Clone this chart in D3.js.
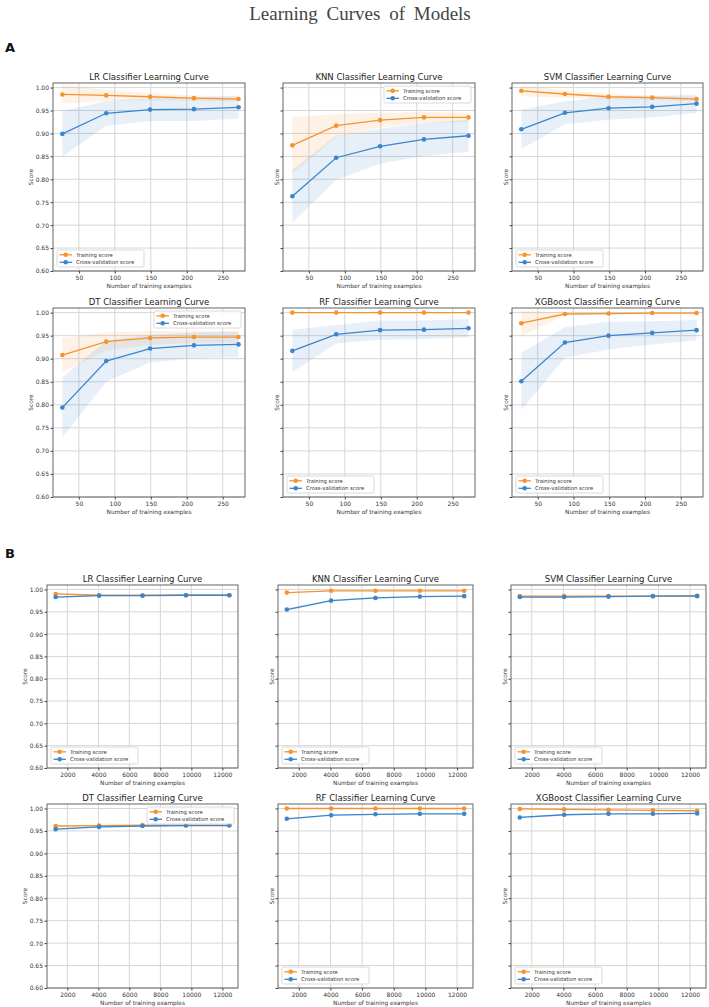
<!DOCTYPE html>
<html><head><meta charset="utf-8">
<script src="https://cdn.jsdelivr.net/npm/d3@7"></script>
<style>body{margin:0;background:#fff;} svg{display:block;} text{font-family:"DejaVu Sans",sans-serif;}</style>
</head><body><svg id="c" width="709" height="1007"></svg>
<script>
const models = ["LR","KNN","SVM","DT","RF","XGBoost"];
const sizesA = [27, 88, 149, 210, 272];
const sizesB = [1245, 4046, 6847, 9649, 12450];
const xTicksA = [50, 100, 150, 200, 250];
const xTicksB = [2000, 4000, 6000, 8000, 10000, 12000];
const yTicks = [0.60, 0.65, 0.70, 0.75, 0.80, 0.85, 0.90, 0.95, 1.00];
const seriesNames = ["Training score", "Cross-validation score"];

// Panel A
const trainMeanA = [
  [0.985, 0.983, 0.980, 0.977, 0.975],
  [0.874, 0.917, 0.929, 0.935, 0.935],
  [0.993, 0.986, 0.980, 0.978, 0.975],
  [0.908, 0.937, 0.945, 0.947, 0.947],
  [1.000, 1.000, 1.000, 1.000, 1.000],
  [0.977, 0.997, 0.998, 0.999, 0.999]
];
const trainStdA = [
  [0.020, 0.012, 0.008, 0.006, 0.005],
  [0.062, 0.025, 0.016, 0.012, 0.010],
  [0.012, 0.008, 0.006, 0.005, 0.005],
  [0.037, 0.020, 0.015, 0.013, 0.012],
  [0.000, 0.000, 0.000, 0.000, 0.000],
  [0.028, 0.003, 0.002, 0.001, 0.001]
];
const cvMeanA = [
  [0.899, 0.944, 0.952, 0.953, 0.957],
  [0.763, 0.847, 0.872, 0.887, 0.895],
  [0.909, 0.945, 0.955, 0.958, 0.965],
  [0.794, 0.895, 0.922, 0.929, 0.931],
  [0.917, 0.953, 0.962, 0.963, 0.966],
  [0.851, 0.935, 0.950, 0.956, 0.962]
];
const cvStdA = [
  [0.050, 0.027, 0.025, 0.026, 0.025],
  [0.058, 0.048, 0.038, 0.036, 0.035],
  [0.043, 0.025, 0.025, 0.023, 0.020],
  [0.065, 0.045, 0.030, 0.028, 0.028],
  [0.046, 0.020, 0.021, 0.020, 0.020],
  [0.062, 0.033, 0.030, 0.025, 0.022]
];
// Panel B
const trainMeanB = [
  [0.990, 0.987, 0.987, 0.987, 0.987],
  [0.993, 0.997, 0.997, 0.997, 0.997],
  [0.985, 0.985, 0.985, 0.985, 0.986],
  [0.961, 0.962, 0.963, 0.963, 0.963],
  [1.000, 1.000, 1.000, 1.000, 1.000],
  [0.999, 0.998, 0.997, 0.996, 0.995]
];
const trainStdB = [
  [0.002, 0.001, 0.001, 0.001, 0.001],
  [0.001, 0.001, 0.001, 0.001, 0.001],
  [0.001, 0.001, 0.001, 0.001, 0.001],
  [0.002, 0.001, 0.001, 0.001, 0.001],
  [0.000, 0.000, 0.000, 0.000, 0.000],
  [0.001, 0.001, 0.001, 0.002, 0.002]
];
const cvMeanB = [
  [0.983, 0.986, 0.986, 0.987, 0.987],
  [0.955, 0.975, 0.981, 0.984, 0.985],
  [0.983, 0.983, 0.984, 0.985, 0.985],
  [0.954, 0.959, 0.961, 0.962, 0.962],
  [0.977, 0.985, 0.987, 0.988, 0.988],
  [0.980, 0.986, 0.988, 0.988, 0.989]
];
const cvStdB = [
  [0.002, 0.001, 0.001, 0.001, 0.001],
  [0.003, 0.002, 0.002, 0.001, 0.001],
  [0.001, 0.001, 0.001, 0.001, 0.001],
  [0.002, 0.002, 0.001, 0.001, 0.001],
  [0.002, 0.001, 0.001, 0.001, 0.001],
  [0.002, 0.001, 0.001, 0.001, 0.001]
];
const legendLocA = ["lower left", "upper right", "lower left", "upper right", "lower left", "lower left"];
const legendLocB = ["lower left", "lower left", "lower left", "upper right", "lower left", "lower left"];

const ORANGE = "#f7922e", BLUE = "#3a85cc";
const svg = d3.select("#c");

// layout
const colsA = [[53, 245], [283, 475], [512, 703]];
const rowsA = [[83, 271], [308, 497]];
const colsB = [[47, 238], [278, 473], [511, 706]];
const rowsB = [[585, 768], [804, 988]];

svg.append("text").attr("x", 360).attr("y", 20).attr("text-anchor", "middle")
  .style("font-family", "'Liberation Serif', 'DejaVu Serif', serif").style("font-size", "19px")
  .style("word-spacing", "4px").attr("fill", "#444").text("Learning Curves of Models");
svg.append("text").attr("x", 5).attr("y", 52).style("font-size", "13px").style("font-weight", "bold").attr("fill", "#111").text("A");
svg.append("text").attr("x", 5).attr("y", 558).style("font-size", "13px").style("font-weight", "bold").attr("fill", "#111").text("B");

let clipId = 0;
function panel(rect, sizes, xDomain, xTicks, tm, ts, cm, cs, title, showYLabels, legendLoc) {
  const [x0, x1, y0, y1] = rect;
  const x = d3.scaleLinear().domain(xDomain).range([x0, x1]);
  const y = d3.scaleLinear().domain([0.6, 1.01]).range([y1, y0]);
  const g = svg.append("g");
  const id = "clip" + (clipId++);
  g.append("clipPath").attr("id", id).append("rect").attr("x", x0).attr("y", y0).attr("width", x1 - x0).attr("height", y1 - y0);
  // grid
  g.append("g").selectAll("line").data(xTicks).join("line")
    .attr("x1", d => x(d)).attr("x2", d => x(d)).attr("y1", y0).attr("y2", y1)
    .attr("stroke", "#d6d6d6").attr("stroke-width", 1);
  g.append("g").selectAll("line").data(yTicks).join("line")
    .attr("y1", d => y(d)).attr("y2", d => y(d)).attr("x1", x0).attr("x2", x1)
    .attr("stroke", "#d6d6d6").attr("stroke-width", 1);
  const plot = g.append("g").attr("clip-path", `url(#${id})`);
  const area = (m, s) => d3.area().x((d, i) => x(sizes[i])).y0((d, i) => y(m[i] - s[i])).y1((d, i) => y(m[i] + s[i]))(m);
  plot.append("path").attr("d", area(tm, ts)).attr("fill", ORANGE).attr("fill-opacity", 0.12);
  plot.append("path").attr("d", area(cm, cs)).attr("fill", BLUE).attr("fill-opacity", 0.12);
  const line = d3.line().x((d, i) => x(sizes[i])).y(d => y(d));
  [[tm, ORANGE], [cm, BLUE]].forEach(([m, c]) => {
    plot.append("path").attr("d", line(m)).attr("fill", "none").attr("stroke", c).attr("stroke-width", 1.3);
    plot.append("g").selectAll("circle").data(m).join("circle")
      .attr("cx", (d, i) => x(sizes[i])).attr("cy", d => y(d)).attr("r", 2.3).attr("fill", c);
  });
  // spines
  g.append("rect").attr("x", x0).attr("y", y0).attr("width", x1 - x0).attr("height", y1 - y0)
    .attr("fill", "none").attr("stroke", "#555").attr("stroke-width", 0.9);
  // axes
  const ya = g.append("g").attr("transform", `translate(${x0},0)`)
    .call(d3.axisLeft(y).tickValues(yTicks).tickSize(2.5).tickFormat(showYLabels ? d3.format(".2f") : ""));
  const xa = g.append("g").attr("transform", `translate(0,${y1})`)
    .call(d3.axisBottom(x).tickValues(xTicks).tickSize(2.5).tickFormat(d3.format("d")));
  [ya, xa].forEach(a => {
    a.select(".domain").remove();
    a.selectAll("line").attr("stroke", "#444");
    a.selectAll("text").style("font-size", "6px").attr("fill", "#333").style("font-family", "'DejaVu Sans',sans-serif");
  });
  ya.selectAll("text").attr("x", -4);
  xa.selectAll("text").attr("y", 4.5);
  // labels
  g.append("text").attr("x", (x0 + x1) / 2).attr("y", y0 - 3).attr("text-anchor", "middle")
    .style("font-size", "8.5px").attr("fill", "#222").text(title);
  g.append("text").attr("x", (x0 + x1) / 2).attr("y", y1 + 17).attr("text-anchor", "middle")
    .style("font-size", "5.8px").attr("fill", "#333").text("Number of training examples");
  const lx = showYLabels ? x0 - 20 : x0 - 4;
  g.append("text").attr("transform", `translate(${lx},${(y0 + y1) / 2}) rotate(-90)`).attr("text-anchor", "middle")
    .style("font-size", "5.8px").attr("fill", "#333").text("Score");
  // legend
  const lw = 87, lh = 17;
  const lxp = legendLoc === "upper right" ? x1 - 4 - lw : x0 + 4;
  const lyp = legendLoc === "upper right" ? y0 + 3 : y1 - 4 - lh;
  const lg = g.append("g").attr("transform", `translate(${lxp},${lyp})`);
  lg.append("rect").attr("width", lw).attr("height", lh).attr("rx", 1.5).attr("fill", "#fff").attr("fill-opacity", 0.85)
    .attr("stroke", "#d0d0d0").attr("stroke-width", 0.8);
  seriesNames.forEach((n, i) => {
    const c = i === 0 ? ORANGE : BLUE;
    const cy = 4.8 + i * 7.5;
    lg.append("line").attr("x1", 2.5).attr("x2", 15).attr("y1", cy).attr("y2", cy).attr("stroke", c).attr("stroke-width", 1.3);
    lg.append("circle").attr("cx", 8.7).attr("cy", cy).attr("r", 2.3).attr("fill", c);
    lg.append("text").attr("x", 19).attr("y", cy + 2).style("font-size", "5.3px").attr("fill", "#333").text(n);
  });
}

const xDomA = [14, 281];
const xDomB = [688, 13007];
models.forEach((m, i) => {
  const r = Math.floor(i / 3), c = i % 3;
  panel([colsA[c][0], colsA[c][1], rowsA[r][0], rowsA[r][1]], sizesA, xDomA, xTicksA,
    trainMeanA[i], trainStdA[i], cvMeanA[i], cvStdA[i], `${m} Classifier Learning Curve`, c === 0, legendLocA[i]);
  panel([colsB[c][0], colsB[c][1], rowsB[r][0], rowsB[r][1]], sizesB, xDomB, xTicksB,
    trainMeanB[i], trainStdB[i], cvMeanB[i], cvStdB[i], `${m} Classifier Learning Curve`, c === 0, legendLocB[i]);
});
</script></body></html>
